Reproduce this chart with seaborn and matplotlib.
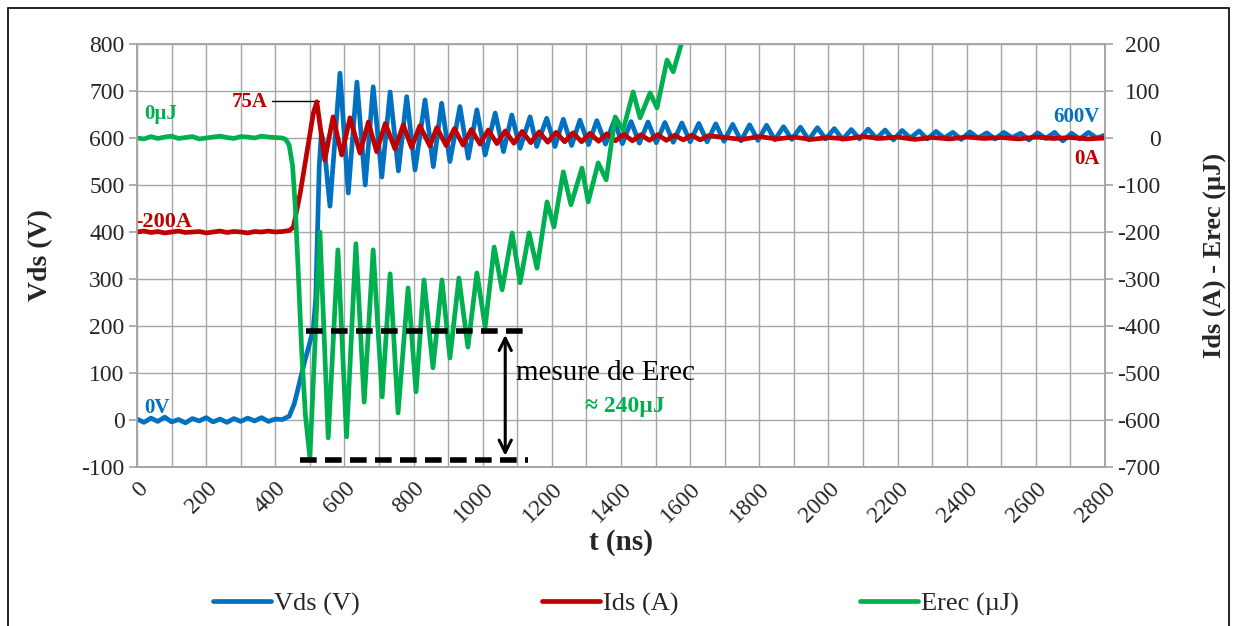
import numpy as np
import pandas as pd
import seaborn as sns
import matplotlib.pyplot as plt
from matplotlib.patches import Rectangle
from matplotlib.ticker import MultipleLocator

sns.set_theme(style="white")
plt.rcParams['font.family'] = ['Liberation Serif', 'DejaVu Serif']
plt.rcParams['axes.unicode_minus'] = False

# Vds (V) - axe de gauche
t_vds = [0, 20, 40, 60, 80, 100, 120, 140, 160, 180, 200, 220, 240, 260, 280, 300, 320, 340, 360, 380, 400, 420,
         440, 455, 470, 485, 500, 510, 517, 522, 527, 533, 540, 558, 587, 611, 636, 660, 683, 708, 732, 756, 780,
         804, 833, 857, 881, 905, 934, 958, 983, 1007, 1036, 1060, 1084, 1108, 1137, 1156, 1185, 1209, 1233, 1257,
         1281, 1306, 1330, 1355, 1380, 1404, 1429, 1453, 1478, 1502, 1527, 1551, 1576, 1600, 1625, 1649, 1674,
         1698, 1723, 1747, 1772, 1796, 1821, 1845, 1870, 1894, 1919, 1943, 1968, 1992, 2017, 2041, 2066, 2090,
         2115, 2139, 2164, 2188, 2213, 2237, 2262, 2286, 2311, 2335, 2360, 2384, 2409, 2433, 2458, 2482, 2507,
         2531, 2556, 2580, 2605, 2629, 2654, 2678, 2703, 2727, 2752, 2776, 2800]
vds = [2, -5, 4, -3, 6, -4, 1, -6, 3, -2, 5, -4, 2, -5, 3, -3, 4, -2, 5, -3, 2, 1,
       8, 35, 80, 125, 165, 195, 260, 400, 540, 610, 590, 455, 738, 483, 719, 500, 709, 517, 698, 530, 688,
       532, 681, 539, 674, 550, 667, 557, 660, 564, 653, 571, 649, 578, 645, 582, 642, 582, 640, 584,
       638, 586, 637, 587, 636, 588, 635, 589, 634, 590, 633, 591, 632, 592, 631, 592, 630,
       593, 629, 594, 628, 595, 627, 596, 624, 597, 623, 596, 622, 598, 620, 597, 618, 598,
       619, 599, 617, 596, 616, 600, 615, 598, 614, 600, 612, 597, 613, 600, 611, 598, 612,
       601, 610, 596, 611, 599, 612, 594, 610, 598, 612, 600, 606]

# Ids (A) - axe de droite
t_ids = [0, 20, 40, 60, 80, 100, 120, 140, 160, 180, 200, 220, 240, 260, 280, 300, 320, 340, 360, 380, 400, 420,
         440, 452, 472, 491, 510, 520, 543, 567, 592, 616, 645, 669, 693, 718, 746, 770, 794, 818, 847, 867,
         894, 918, 943, 967, 992, 1016, 1041, 1065, 1090, 1114, 1139, 1163, 1188, 1212, 1237, 1261, 1286, 1310,
         1335, 1359, 1384, 1408, 1433, 1457, 1482, 1506, 1531, 1555, 1580, 1604, 1629, 1653, 1700, 1750, 1800,
         1850, 1900, 1950, 2000, 2050, 2100, 2150, 2200, 2250, 2300, 2350, 2400, 2450, 2500, 2550, 2600, 2650,
         2700, 2750, 2800]
ids = [-200, -198, -201, -199, -202, -200, -198, -201, -200, -199, -202, -200, -198, -201, -199, -200, -202, -199,
       -200, -198, -200, -199,
       -197, -190, -117, -32, 53, 77, -47, 45, -36, 43, -32, 34, -29, 31, -23, 28, -20, 26, -17, 22,
       -16, 20, -15, 18, -13, 17, -12, 15, -11, 14, -10, 13, -9, 12, -8, 11, -8, 10,
       -7, 9, -6, 8, -6, 7, -5, 7, -5, 6, -4, 6, -4, 5, 1, -3, 3,
       -2, 2, -3, 1, -2, 3, -1, 2, -3, 1, -2, 2, -1, 1, -2, 2, -1,
       1, -2, 0]

# Erec (uJ) - axe de droite
t_erec = [0, 20, 40, 60, 80, 100, 120, 140, 160, 180, 200, 220, 240, 260, 280, 300, 320, 340, 360, 380, 400, 420,
          430, 440, 450, 458, 466, 476, 487, 500, 529, 553, 581, 606, 633, 657, 683, 709, 732, 755, 784, 807,
          830, 856, 882, 905, 931, 957, 983, 1007, 1033, 1056, 1085, 1108, 1134, 1157, 1186, 1206, 1233, 1255,
          1287, 1305, 1334, 1357, 1383, 1406, 1435, 1455, 1484, 1504, 1533, 1551, 1580, 1600]
erec = [0, -2, 3, -1, 2, 4, -1, 1, 3, -2, 0, 2, 4, 1, -1, 3, 2, 0, 4, 2, 1, 0,
        -3, -15, -60, -150, -280, -450, -590, -680, -200, -638, -238, -636, -225, -562, -238, -551, -289, -585,
        -319, -540,
        -302, -489, -302, -468, -298, -445, -287, -402, -232, -323, -202, -308, -202, -277, -136, -189, -72, -142,
        -64, -136, -53, -89, 45, 17, 98, 43, 96, 64, 166, 141, 215, 245]

c_vds, c_ids, c_erec = '#0070C0', '#C00000', '#00B050'

fig = plt.figure(figsize=(12.37, 6.26), dpi=100)
ax = fig.add_axes([0.1108, 0.254, 0.7825, 0.6757])
ax2 = ax.twinx()

sns.lineplot(x=t_vds, y=vds, ax=ax, color=c_vds, lw=3.4, legend=False)
sns.lineplot(x=t_ids, y=ids, ax=ax2, color=c_ids, lw=3.4, legend=False)
sns.lineplot(x=t_erec, y=erec, ax=ax2, color=c_erec, lw=3.4, legend=False)

ax.set_xlim(0, 2800)
ax.set_ylim(-100, 800)
ax2.set_ylim(-700, 200)
ax.xaxis.set_major_locator(MultipleLocator(200))
ax.xaxis.set_minor_locator(MultipleLocator(100))
ax.yaxis.set_major_locator(MultipleLocator(100))
ax2.yaxis.set_major_locator(MultipleLocator(100))
ax.grid(True, which='both', color='#A6A6A6', lw=1)
ax.set_axisbelow(True)

for a in (ax, ax2):
    for s in a.spines.values():
        s.set_color('#A6A6A6')
ax.tick_params(axis='x', which='major', length=6, color='#A6A6A6', labelsize=17, labelrotation=45, pad=2)
ax.tick_params(axis='x', which='minor', length=3, color='#A6A6A6')
ax.tick_params(axis='y', length=6, color='#A6A6A6', labelsize=17, pad=3)
ax2.tick_params(axis='y', length=6, color='#A6A6A6', labelsize=17, pad=34)
for lab in ax.get_xticklabels():
    lab.set_ha('right')
    lab.set_rotation_mode('anchor')
for lab in ax2.get_yticklabels():
    lab.set_ha('right')

ax.set_xlabel('t (ns)', fontsize=21, fontweight='bold', labelpad=2)
ax.set_ylabel('Vds (V)', fontsize=20, fontweight='bold', labelpad=20)
ax2.set_ylabel('Ids (A) - Erec (µJ)', fontsize=19, fontweight='bold', rotation=90, labelpad=30)

# annotations des niveaux
ax.text(20, 640, '0µJ', color=c_erec, fontsize=15, fontweight='bold')
ax.text(275, 665, '75A', color=c_ids, fontsize=15, fontweight='bold')
ax.plot([390, 525], [679, 679], color='black', lw=1)
ax.text(-5, 410, '-200A', color=c_ids, fontsize=16, fontweight='bold')
ax.text(20, 15, '0V', color=c_vds, fontsize=15, fontweight='bold')
ax.text(2785, 635, '600V', color=c_vds, fontsize=15, fontweight='bold', ha='right')
ax.text(2785, 545, '0A', color=c_ids, fontsize=15, fontweight='bold', ha='right')

# mesure de Erec
ax2.plot([488, 1130], [-410, -410], color='black', lw=4, ls=(0, (3, 1.5)))
ax2.plot([470, 1130], [-685, -685], color='black', lw=4, ls=(0, (3, 1.5)))
ax2.annotate('', xy=(1065, -413), xytext=(1065, -682),
             arrowprops=dict(arrowstyle='<->', color='black', lw=2.2, mutation_scale=22))
ax2.text(1095, -500, 'mesure de Erec', fontsize=21, color='black', va='center')
ax2.text(1295, -572, '≈ 240µJ', fontsize=17, color=c_erec, fontweight='bold', va='center')

handles = [ax.lines[0], ax2.lines[0], ax2.lines[1]]
fig.legend(handles, ['Vds (V)', 'Ids (A)', 'Erec (µJ)'], loc='center', bbox_to_anchor=(0.498, 0.035),
           ncol=3, frameon=False, fontsize=19, columnspacing=6.9, handlelength=2.2, handletextpad=0.1)

fig.patches.append(Rectangle((0.0065, -0.01), 0.9871, 0.997, transform=fig.transFigure,
                             fill=False, edgecolor='black', lw=1.2))

fig.savefig('out.png', dpi=100)
